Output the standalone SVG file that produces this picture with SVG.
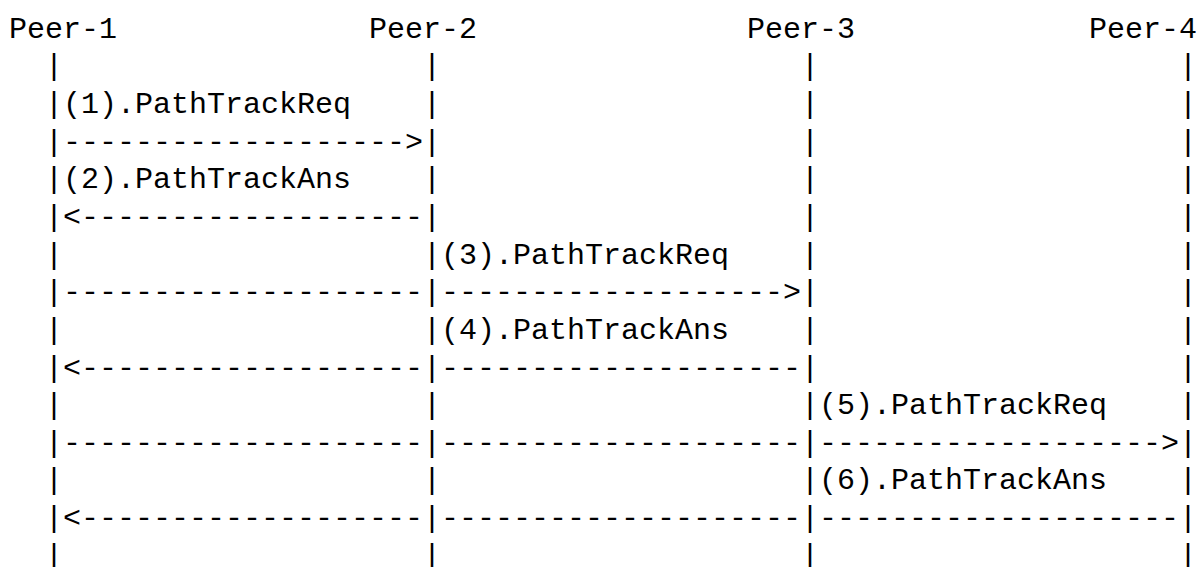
<svg xmlns="http://www.w3.org/2000/svg" width="1201" height="567" viewBox="0 0 1201 567">
<style>
text{font-family:"Liberation Mono","DejaVu Sans Mono",monospace;font-size:30px;fill:#000;white-space:pre}
</style>
<rect width="1201" height="567" fill="#fff"/>
<g id="peer1">
<text x="9" y="37.7">Peer-1</text>
<text x="45"><tspan x="45" y="75.3">|</tspan><tspan x="45" y="113">|</tspan><tspan x="45" y="150.6">|</tspan><tspan x="45" y="188.3">|</tspan><tspan x="45" y="225.9">|</tspan><tspan x="45" y="263.5">|</tspan><tspan x="45" y="301.2">|</tspan><tspan x="45" y="338.8">|</tspan><tspan x="45" y="376.5">|</tspan><tspan x="45" y="414.1">|</tspan><tspan x="45" y="451.7">|</tspan><tspan x="45" y="489.4">|</tspan><tspan x="45" y="527">|</tspan><tspan x="45" y="564.7">|</tspan></text>
</g>
<g id="peer2">
<text x="369" y="37.7">Peer-2</text>
<text x="423"><tspan x="423" y="75.3">|</tspan><tspan x="423" y="113">|</tspan><tspan x="423" y="150.6">|</tspan><tspan x="423" y="188.3">|</tspan><tspan x="423" y="225.9">|</tspan><tspan x="423" y="263.5">|</tspan><tspan x="423" y="301.2">|</tspan><tspan x="423" y="338.8">|</tspan><tspan x="423" y="376.5">|</tspan><tspan x="423" y="414.1">|</tspan><tspan x="423" y="451.7">|</tspan><tspan x="423" y="489.4">|</tspan><tspan x="423" y="527">|</tspan><tspan x="423" y="564.7">|</tspan></text>
</g>
<g id="peer3">
<text x="747" y="37.7">Peer-3</text>
<text x="801"><tspan x="801" y="75.3">|</tspan><tspan x="801" y="113">|</tspan><tspan x="801" y="150.6">|</tspan><tspan x="801" y="188.3">|</tspan><tspan x="801" y="225.9">|</tspan><tspan x="801" y="263.5">|</tspan><tspan x="801" y="301.2">|</tspan><tspan x="801" y="338.8">|</tspan><tspan x="801" y="376.5">|</tspan><tspan x="801" y="414.1">|</tspan><tspan x="801" y="451.7">|</tspan><tspan x="801" y="489.4">|</tspan><tspan x="801" y="527">|</tspan><tspan x="801" y="564.7">|</tspan></text>
</g>
<g id="peer4">
<text x="1089" y="37.7">Peer-4</text>
<text x="1179"><tspan x="1179" y="75.3">|</tspan><tspan x="1179" y="113">|</tspan><tspan x="1179" y="150.6">|</tspan><tspan x="1179" y="188.3">|</tspan><tspan x="1179" y="225.9">|</tspan><tspan x="1179" y="263.5">|</tspan><tspan x="1179" y="301.2">|</tspan><tspan x="1179" y="338.8">|</tspan><tspan x="1179" y="376.5">|</tspan><tspan x="1179" y="414.1">|</tspan><tspan x="1179" y="451.7">|</tspan><tspan x="1179" y="489.4">|</tspan><tspan x="1179" y="527">|</tspan><tspan x="1179" y="564.7">|</tspan></text>
</g>
<g id="connectors">
<text x="63" y="113">(1).PathTrackReq</text>
<text x="63" y="150.6">-------------------&gt;</text>
<text x="63" y="188.3">(2).PathTrackAns</text>
<text x="63" y="225.9">&lt;-------------------</text>
<text x="441" y="263.5">(3).PathTrackReq</text>
<text x="63" y="301.2">--------------------</text>
<text x="441" y="301.2">-------------------&gt;</text>
<text x="441" y="338.8">(4).PathTrackAns</text>
<text x="63" y="376.5">&lt;-------------------</text>
<text x="441" y="376.5">--------------------</text>
<text x="819" y="414.1">(5).PathTrackReq</text>
<text x="63" y="451.7">--------------------</text>
<text x="441" y="451.7">--------------------</text>
<text x="819" y="451.7">-------------------&gt;</text>
<text x="819" y="489.4">(6).PathTrackAns</text>
<text x="63" y="527">&lt;-------------------</text>
<text x="441" y="527">--------------------</text>
<text x="819" y="527">--------------------</text>
</g>
</svg>
